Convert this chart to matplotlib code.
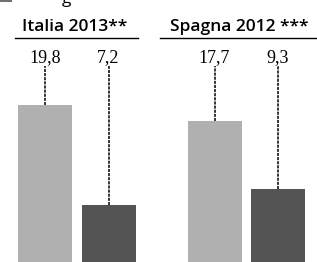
import matplotlib
matplotlib.use("Agg")
import matplotlib.pyplot as plt

groups = ["Italia 2013**", "Spagna 2012 ***"]
values = [19.8, 7.2, 17.7, 9.3]
labels = ["19,8", "7,2", "17,7", "9,3"]
colors = ["#b0b0b0", "#545454", "#b0b0b0", "#545454"]
xpos = [45, 108.5, 214.5, 277.5]

W, H = 317, 262
fig = plt.figure(figsize=(W / 100, H / 100), dpi=100)
ax = fig.add_axes([0, 0, 1, 1])
scale = 8.0  # px per unit
zero_px = 263.0
ax.set_xlim(0, W)
ax.set_ylim((zero_px - H) / scale, zero_px / scale)
ax.axis("off")

def py(p):
    return (zero_px - p) / scale

ax.bar(xpos, values, width=54, color=colors, linewidth=0)

for x, v, lab in zip(xpos, values, labels):
    ax.plot([x, x], [v, py(66)], color="black", lw=1.1, linestyle=(0, (2, 0.7)))
    ax.text(x, py(62), lab, ha="center", va="baseline", fontsize=13,
            family="Liberation Serif", color="black")

# group headers
ax.text(75, py(31), groups[0], ha="center", va="baseline", fontsize=12.5,
        family="Open Sans", weight="semibold", color="black")
ax.text(239, py(31), groups[1], ha="center", va="baseline", fontsize=12.5,
        family="Open Sans", weight="semibold", color="black")
ax.plot([15, 138], [py(38), py(38)], color="black", lw=1.0)
ax.plot([160, 317], [py(38), py(38)], color="black", lw=1.0)

# legend remnant at top
ax.add_patch(plt.Rectangle((0, py(2)), 12, 4 / scale, color="#707070", lw=0, clip_on=False))
ax.text(62, py(3), "g", ha="left", va="baseline", fontsize=12.5, family="Open Sans")

fig.savefig("out.png", dpi=100)
